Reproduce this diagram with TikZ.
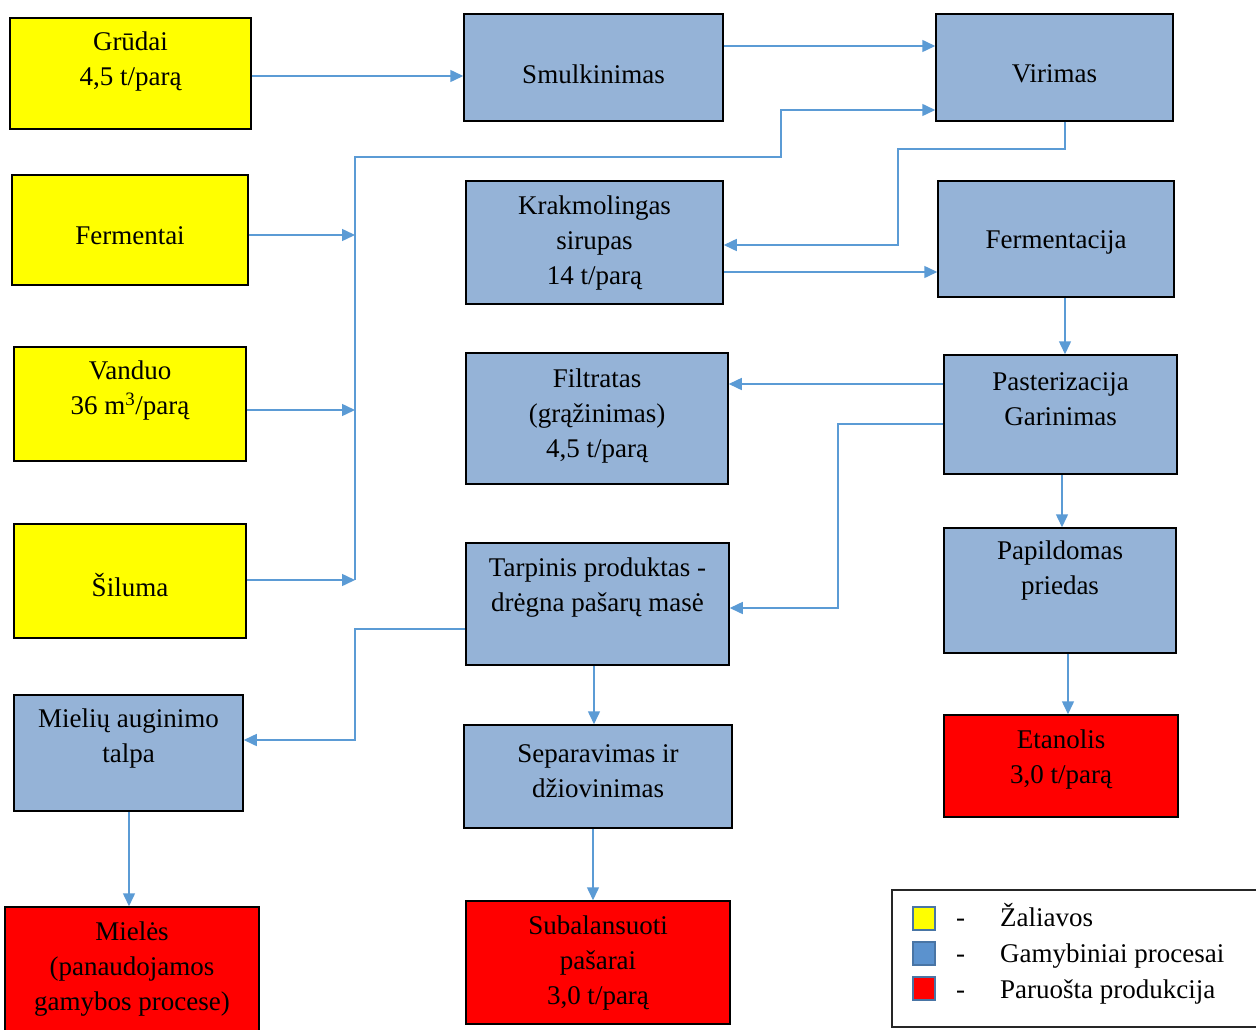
\documentclass[tikz,border=0pt]{standalone}
\usepackage{fontspec}
\setmainfont{Liberation Serif}
\usetikzlibrary{arrows.meta}
\definecolor{yel}{RGB}{255,255,0}
\definecolor{boxblue}{RGB}{149,179,215}
\definecolor{legblue}{RGB}{91,146,206}
\definecolor{red}{RGB}{255,0,0}
\definecolor{arrblue}{RGB}{91,155,213}
\tikzset{
  box/.style={draw=black, line width=1.5pt, rectangle, inner sep=0pt},
  lbl/.style={align=center, inner sep=0pt, font=\fontsize{27}{35}\selectfont},
  conn/.style={draw=arrblue, line width=1.5pt},
  arr/.style={conn, -{Triangle[length=13pt,width=12pt]}},
  legsq/.style={draw=legblue!80!black, line width=2pt, minimum width=22pt, minimum height=23pt, inner sep=0pt},
  legtxt/.style={anchor=base west, inner sep=0pt, font=\fontsize{27}{35}\selectfont}
}
\begin{document}
\begin{tikzpicture}[x=1pt,y=-1pt]
\clip (0,0) rectangle (1256,1030);
\fill[white] (0,0) rectangle (1256,1030);
% boxes
\node[box, fill=yel, minimum width=241pt, minimum height=111pt] (grudai) at (130.5,73.5) {};
\node[box, fill=yel, minimum width=236pt, minimum height=110pt] (ferm) at (130,230) {};
\node[box, fill=yel, minimum width=232pt, minimum height=114pt] (vand) at (130,404) {};
\node[box, fill=yel, minimum width=232pt, minimum height=114pt] (silu) at (130,581) {};
\node[box, fill=boxblue, minimum width=229pt, minimum height=116pt] (miel) at (128.5,753) {};
\node[box, fill=red, minimum width=254pt, minimum height=133pt] (mieles) at (132,973.5) {};
\node[box, fill=boxblue, minimum width=259pt, minimum height=107pt] (smul) at (593.5,67.5) {};
\node[box, fill=boxblue, minimum width=237pt, minimum height=107pt] (viri) at (1054.5,67.5) {};
\node[box, fill=boxblue, minimum width=257pt, minimum height=123pt] (krak) at (594.5,242.5) {};
\node[box, fill=boxblue, minimum width=236pt, minimum height=116pt] (fermt) at (1056,239) {};
\node[box, fill=boxblue, minimum width=262pt, minimum height=131pt] (filt) at (597,418.5) {};
\node[box, fill=boxblue, minimum width=233pt, minimum height=119pt] (past) at (1060.5,414.5) {};
\node[box, fill=boxblue, minimum width=263pt, minimum height=122pt] (tarp) at (597.5,604) {};
\node[box, fill=boxblue, minimum width=232pt, minimum height=125pt] (papi) at (1060,590.5) {};
\node[box, fill=boxblue, minimum width=268pt, minimum height=103pt] (sepa) at (598,776.5) {};
\node[box, fill=red, minimum width=234pt, minimum height=102pt] (etan) at (1061,766) {};
\node[box, fill=red, minimum width=264pt, minimum height=123pt] (suba) at (598,962.5) {};
% labels
\node[lbl] (tgrudai) at (130.5,62) {Grūdai\\4,5 t/parą};
\node[lbl] (tferm) at (130,236) {Fermentai};
\node[lbl] (tvand) at (130,391) {Vanduo\\36 m\textsuperscript{3}/parą};
\node[lbl] (tsilu) at (130,585) {Šiluma};
\node[lbl] (tmiel) at (128.5,739) {Mielių auginimo\\talpa};
\node[lbl] (tmieles) at (132,969) {Mielės\\(panaudojamos\\gamybos procese)};
\node[lbl] (tsmul) at (593.5,74) {Smulkinimas};
\node[lbl] (tviri) at (1054.5,74) {Virimas};
\node[lbl] (tkrak) at (594.5,243) {Krakmolingas\\sirupas\\14 t/parą};
\node[lbl] (tfermt) at (1056,242) {Fermentacija};
\node[lbl] (tfilt) at (597,416) {Filtratas\\(grąžinimas)\\4,5 t/parą};
\node[lbl] (tpast) at (1060.5,399) {Pasterizacija\\Garinimas};
\node[lbl] (ttarp) at (597.5,588) {Tarpinis produktas -\\drėgna pašarų masė};
\node[lbl] (tpapi) at (1060,571) {Papildomas\\priedas};
\node[lbl] (tsepa) at (598,771) {Separavimas ir\\džiovinimas};
\node[lbl] (tetan) at (1061,760) {Etanolis\\3,0 t/parą};
\node[lbl] (tsuba) at (598,963) {Subalansuoti\\pašarai\\3,0 t/parą};
% bus coordinates
\coordinate (busT) at (355,157);
\coordinate (busB) at (355,580);
\coordinate (busM) at (355,740);
% connectors
\draw[arr] (grudai.east |- 0,76) -- (smul.west |- 0,76);
\draw[arr] (smul.east |- 0,46) -- (viri.west |- 0,46);
\draw[arr] (busB) -- (busT) -| (781,110) -- (viri.west |- 0,110);
\draw[arr] (ferm.east |- 0,235) -- (busT |- 0,235);
\draw[arr] (vand.east |- 0,410) -- (busT |- 0,410);
\draw[arr] (silu.east |- 0,580) -- (busB);
\draw[arr] (viri.south -| 1065,0) -- (1065,149) -| (898,245) -- (krak.east |- 0,245);
\draw[arr] (krak.east |- 0,272) -- (fermt.west |- 0,272);
\draw[arr] (fermt.south -| 1065,0) -- (past.north -| 1065,0);
\draw[arr] (past.west |- 0,384) -- (filt.east |- 0,384);
\draw[arr] (past.west |- 0,424) -| (838,608) -- (tarp.east |- 0,608);
\draw[arr] (past.south -| 1062,0) -- (papi.north -| 1062,0);
\draw[arr] (papi.south -| 1068,0) -- (etan.north -| 1068,0);
\draw[arr] (tarp.west |- 0,629) -| (busM) -- (miel.east |- 0,740);
\draw[arr] (tarp.south -| 594,0) -- (sepa.north -| 594,0);
\draw[arr] (sepa.south -| 593,0) -- (suba.north -| 593,0);
\draw[arr] (miel.south -| 129,0) -- (mieles.north -| 129,0);
% legend
\node[draw=black!85, line width=1.5pt, minimum width=370pt, minimum height=137pt, inner sep=0pt] (legend) at (1077,958.5) {};
\node[legsq, fill=yel] (lq1) at (923.5,918) {};
\node[legsq, fill=legblue] (lq2) at (923.5,953) {};
\node[legsq, fill=red] (lq3) at (923.5,988.5) {};
\node[legtxt] (ld1) at (956,926) {-};
\node[legtxt] (ld2) at (956,962) {-};
\node[legtxt] (ld3) at (956,998) {-};
\node[legtxt] (lt1) at (1000,926) {Žaliavos};
\node[legtxt] (lt2) at (1000,962) {Gamybiniai procesai};
\node[legtxt] (lt3) at (1000,998) {Paruošta produkcija};
\end{tikzpicture}
\end{document}
